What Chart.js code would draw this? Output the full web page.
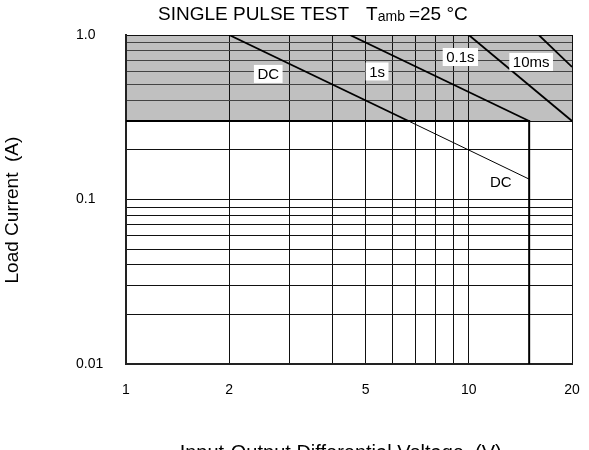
<!DOCTYPE html>
<html>
<head>
<meta charset="utf-8">
<script src="https://cdn.jsdelivr.net/npm/chart.js@4/dist/chart.umd.min.js"></script>
<style>
  html, body { margin: 0; padding: 0; background: #fff; }
  #wrap { width: 589px; height: 450px; }
</style>
</head>
<body>
<div id="wrap"><canvas id="chart" width="589" height="450"></canvas></div>
<script>
// grid / tick values
const xGrid = [1, 2, 3, 4, 5, 6, 7, 8, 9, 10, 20];
const xLabels = [1, 2, 5, 10, 20];
const yGrid = [0.01, 0.02, 0.03, 0.04, 0.05, 0.06, 0.07, 0.08, 0.09, 0.1, 0.2, 0.3, 0.4, 0.5, 0.6, 0.7, 0.8, 0.9, 1];
const yLabels = [0.01, 0.1, 1];

// curves (V, A)
const dcThick = [[2, 1.0], [6.67, 0.3]];
const dcThin = [[6.67, 0.3], [15, 0.133]];
const pulse1s = [[4.5, 1.0], [15, 0.3]];
const pulse100ms = [[10, 1.0], [20, 0.3]];
const pulse10ms = [[16, 1.0], [20, 0.64]];
const limit = [[1, 0.3], [15, 0.3], [15, 0.01]];
const shadeBand = [0.3, 1.0];

// curve labels: text, V, A, boxed
const curveLabels = [
  ['DC', 2.6, 0.58, true],
  ['1s', 5.4, 0.6, true],
  ['0.1s', 9.45, 0.735, true],
  ['10ms', 15.2, 0.686, true],
  ['DC', 12.4, 0.128, false]
];

const FONT = '"Liberation Sans", Arial, Helvetica, sans-serif';
const pts = (arr) => arr.map(p => ({ x: p[0], y: p[1] }));

function lineSet(data, width){
  return { data: pts(data), showLine: true, borderColor: '#000', borderWidth: width,
    pointRadius: 0, fill: false, tension: 0 };
}

const shadePlugin = {
  id: 'shade',
  beforeDraw(chart){
    const { ctx, chartArea: a, scales: { y } } = chart;
    const top = y.getPixelForValue(shadeBand[1]);
    const bot = y.getPixelForValue(shadeBand[0]);
    ctx.save();
    ctx.fillStyle = '#c0c0c0';
    ctx.fillRect(a.left, top, a.right - a.left, bot - top);
    ctx.restore();
  }
};

const labelPlugin = {
  id: 'curveLabels',
  afterDatasetsDraw(chart){
    const { ctx, scales: { x, y } } = chart;
    ctx.save();
    ctx.font = '15px ' + FONT;
    ctx.textAlign = 'center';
    ctx.textBaseline = 'middle';
    curveLabels.forEach(([t, v, a, boxed]) => {
      const px = x.getPixelForValue(v), py = y.getPixelForValue(a);
      const w = ctx.measureText(t).width + 7;
      if (boxed) {
        ctx.fillStyle = '#fff';
        ctx.fillRect(px - w / 2, py - 9, w, 18);
      }
      ctx.fillStyle = '#000';
      ctx.fillText(t, px, py + 1);
    });
    ctx.restore();
  }
};

const titlePlugin = {
  id: 'heading',
  afterDraw(chart){
    const { ctx, chartArea: a } = chart;
    ctx.save();
    ctx.fillStyle = '#000';
    ctx.textBaseline = 'alphabetic';
    ctx.textAlign = 'left';
    let px = a.left + 32;
    const base = 20;
    ctx.font = '19px ' + FONT;
    ctx.fillText('SINGLE PULSE TEST', px, base);
    px += ctx.measureText('SINGLE PULSE TEST').width + 17;
    ctx.fillText('T', px, base);
    px += ctx.measureText('T').width;
    ctx.font = '14px ' + FONT;
    ctx.fillText('amb', px, base + 1);
    px += ctx.measureText('amb').width + 4;
    ctx.font = '19px ' + FONT;
    ctx.fillText('=25 °C', px, base);
    ctx.restore();
  }
};

new Chart(document.getElementById('chart'), {
  type: 'scatter',
  data: {
    datasets: [
      lineSet(limit, 2),
      lineSet(dcThick, 1.8),
      lineSet(dcThin, 1),
      lineSet(pulse1s, 1.8),
      lineSet(pulse100ms, 1.8),
      lineSet(pulse10ms, 1.8)
    ]
  },
  options: {
    responsive: false,
    animation: false,
    layout: { padding: { left: 76, top: 35, right: 17, bottom: 0 } },
    plugins: { legend: { display: false }, tooltip: { enabled: false }, title: { display: false } },
    scales: {
      x: {
        type: 'logarithmic', min: 1, max: 20,
        afterBuildTicks: (s) => { s.ticks = xGrid.map(v => ({ value: v })); },
        afterFit: (s) => { s.height = 86; s.paddingLeft = 0; s.paddingRight = 0; },
        ticks: {
          autoSkip: false, maxRotation: 0, padding: 18, color: '#000',
          font: { family: FONT, size: 14 },
          callback: (v) => xLabels.includes(v) ? String(v) : ''
        },
        grid: { color: '#111', lineWidth: 1, drawTicks: false },
        border: { color: '#222', width: 2 },
        title: { display: true, text: 'Input-Output Differential Voltage  (V)   ', color: '#000',
          font: { family: FONT, size: 20 }, padding: { top: 0, bottom: -15 } }
      },
      y: {
        type: 'logarithmic', min: 0.01, max: 1,
        afterBuildTicks: (s) => { s.ticks = yGrid.map(v => ({ value: v })); },
        afterFit: (s) => { s.width = 50; },
        ticks: {
          autoSkip: false, crossAlign: 'far', padding: 0, color: '#000',
          font: { family: FONT, size: 14 },
          callback: (v) => yLabels.includes(v) ? (v === 1 ? '1.0' : String(v)) : ''
        },
        grid: { color: (c) => (c.tick && c.tick.value > 0.3 && c.tick.value < 1) ? '#444' : '#111', lineWidth: 1, drawTicks: false },
        border: { color: '#222', width: 2 },
        title: { display: true, text: 'Load Current  (A)    ', color: '#000',
          font: { family: FONT, size: 19 }, padding: { top: -75, bottom: 0 } }
      }
    }
  },
  plugins: [shadePlugin, labelPlugin, titlePlugin]
});
</script>
</body>
</html>
